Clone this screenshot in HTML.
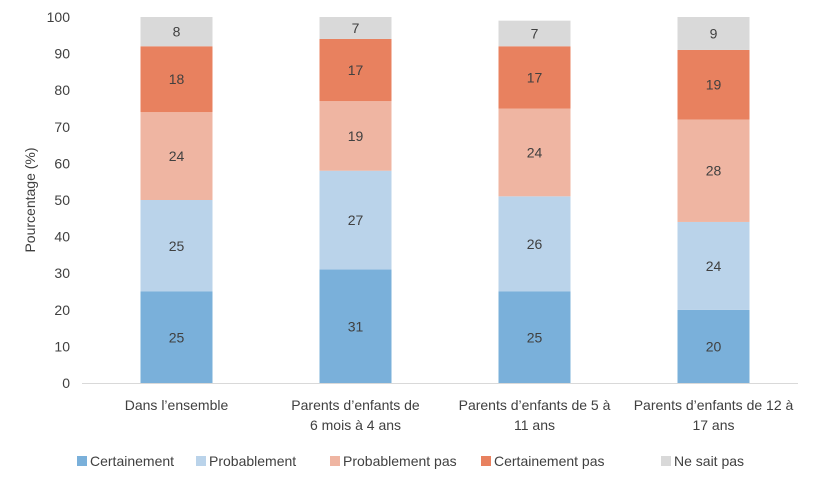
<!DOCTYPE html>
<html><head><meta charset="utf-8"><style>
body{margin:0;background:#fff;font-family:"Liberation Sans",sans-serif;}
svg text{font-family:"Liberation Sans",sans-serif;fill:#404040;}
</style></head><body>
<svg id="chart" width="814" height="481"></svg>
<script>
const categories=[["Dans l’ensemble"],["Parents d’enfants de","6 mois à 4 ans"],["Parents d’enfants de 5 à","11 ans"],["Parents d’enfants de 12 à","17 ans"]];
const seriesNames=["Certainement","Probablement","Probablement pas","Certainement pas","Ne sait pas"];
const certainement=[25,31,25,20];
const probablement=[25,27,26,24];
const probablementPas=[24,19,24,28];
const certainementPas=[18,17,17,19];
const neSaitPas=[8,7,7,9];
const yTicks=[0,10,20,30,40,50,60,70,80,90,100];
const colors=["#7ab0da","#bad3ea","#efb5a2","#e8815f","#d9d9d9"];
const series=[certainement,probablement,probablementPas,certainementPas,neSaitPas];
const NS="http://www.w3.org/2000/svg";
const svg=document.getElementById('chart');
const y0=383,y100=17,left=87,step=179,bw=72;
const y=v=>y0-(y0-y100)*Math.min(v,100)/100;
const xc=i=>left+step*(i+0.5);
function mk(t,a,p){const e=document.createElementNS(NS,t);for(const k in a)e.setAttribute(k,a[k]);(p||svg).appendChild(e);return e;}
yTicks.forEach(t=>{
 const e=mk('text',{x:70,y:y(t)+5,'text-anchor':'end','font-size':14});e.textContent=t;
 
 
});
const yt=mk('text',{x:0,y:0,'text-anchor':'middle','font-size':14,transform:'translate(35,200) rotate(-90)'});yt.textContent="Pourcentage (%)";


categories.forEach((c,i)=>{
 let cum=0;
 series.forEach((s,j)=>{
  const v=s[i];
  const r=mk('rect',{x:xc(i)-bw/2,y:y(cum+v),width:bw,height:y(cum)-y(cum+v),fill:colors[j]});
  
  
  const t=mk('text',{x:xc(i),y:(y(cum)+y(cum+v))/2+5,'text-anchor':'middle','font-size':14});t.textContent=v;
  
  
  cum+=v;
 });
 c.forEach((line,k)=>{
  const t=mk('text',{x:xc(i),y:410+k*20,'text-anchor':'middle','font-size':14});t.textContent=line;
  
  
 });
});
const ax=mk('line',{x1:82,x2:798,y1:y0+0.5,y2:y0+0.5,stroke:'#d9d9d9'});


const lx=[77,196,330,481,661];
seriesNames.forEach((n,j)=>{
 const g=mk('g',{});
 
 
 mk('rect',{x:lx[j],y:456,width:10,height:10,fill:colors[j]},g);
 const t=mk('text',{x:lx[j]+13,y:466,'font-size':14},g);t.textContent=n;
});
</script>
</body></html>
